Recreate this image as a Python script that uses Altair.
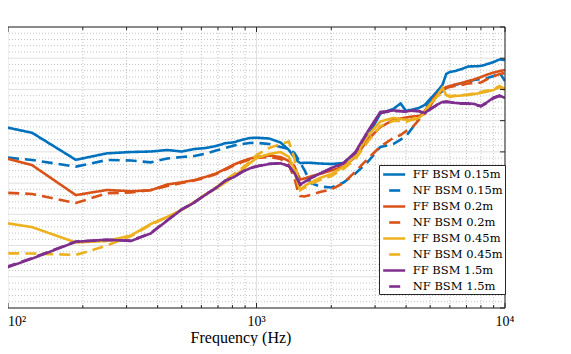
import altair as alt
import pandas as pd

# ---------------- data ----------------
freqs = [62.5, 125, 187.5, 250, 312.5, 375, 437.5, 500, 562.5, 625, 687.5, 750,
         812.5, 875, 937.5, 1000, 1125, 1250, 1350, 1420, 1470, 1500, 1560, 1650,
         1800, 2000, 2240, 2500, 2800, 3150, 3550, 3800, 4000, 4250, 4500, 4750,
         5000, 5300, 5600, 5800, 6000, 6300, 6700, 7100, 7500, 8000, 8500, 9000,
         9500, 10000]

series_names = ["FF BSM 0.15m", "NF BSM 0.15m", "FF BSM 0.2m", "NF BSM 0.2m",
                "FF BSM 0.45m", "NF BSM 0.45m", "FF BSM 1.5m", "NF BSM 1.5m"]

ff_015 = [-14.41, -16.94, -21.27, -20.23, -20.02, -19.94, -19.70, -19.94, -19.54, -19.38,
          -19.06, -18.61, -18.46, -18.06, -17.78, -17.73, -17.86, -18.50, -19.70, -20.90,
          -21.54, -21.78, -21.75, -21.75, -21.86, -21.94, -21.78, -20.18, -17.62, -13.85,
          -13.13, -12.25, -13.45, -13.21, -12.97, -12.49, -11.53, -10.41, -9.29, -7.53,
          -7.21, -7.05, -6.73, -6.33, -6.29, -6.25, -5.93, -5.61, -5.20, -5.28]
nf_015 = [-20.10, -21.30, -22.36, -21.30, -21.38, -21.67, -21.06, -20.82, -20.66, -20.26,
          -19.78, -19.38, -18.98, -18.74, -18.58, -18.55, -18.74, -19.22, -19.54, -20.18,
          -21.14, -21.78, -22.90, -24.98, -25.54, -25.70, -24.90, -23.46, -21.62, -19.22,
          -18.74, -18.02, -17.46, -16.10, -14.57, -13.13, -12.01, -11.05, -10.25, -9.77,
          -9.53, -9.29, -8.97, -8.73, -8.49, -8.33, -8.17, -7.85, -7.29, -8.65]
ff_02 = [-18.98, -22.12, -26.92, -26.10, -26.30, -26.15, -25.22, -24.87, -24.51, -23.99,
         -23.46, -22.71, -22.02, -21.49, -21.09, -20.82, -20.58, -20.82, -21.46, -22.26,
         -23.70, -24.42, -24.26, -23.94, -23.54, -22.98, -22.34, -20.82, -18.10, -16.02,
         -14.89, -14.65, -14.49, -14.33, -14.25, -13.93, -12.65, -11.05, -10.01, -9.61,
         -9.45, -9.21, -8.97, -8.65, -8.41, -8.01, -7.61, -7.29, -7.05, -6.89]
nf_02 = [-26.18, -26.74, -28.19, -26.63, -26.50, -26.10, -25.46, -24.98, -24.58, -24.10,
         -23.54, -22.82, -22.18, -21.62, -21.22, -20.98, -20.82, -21.14, -22.10, -24.18,
         -26.42, -27.07, -27.15, -26.91, -26.42, -26.02, -24.98, -23.14, -21.14, -19.14,
         -17.78, -17.30, -16.66, -16.02, -14.89, -13.45, -12.17, -10.89, -10.09, -9.77,
         -9.61, -9.45, -9.29, -9.05, -8.97, -8.89, -8.33, -7.93, -7.53, -7.37]
ff_045 = [-30.16, -32.05, -34.51, -34.27, -33.39, -31.55, -30.40, -29.31, -28.03, -26.83,
          -25.86, -24.90, -23.86, -22.90, -21.86, -20.98, -20.34, -20.02, -20.82, -22.90,
          -25.14, -26.10, -25.46, -24.90, -24.18, -23.54, -22.42, -20.66, -17.46, -15.13,
          -14.57, -14.73, -14.89, -14.89, -14.57, -13.77, -12.33, -11.21, -9.77, -10.89,
          -11.21, -11.05, -10.97, -10.89, -10.73, -10.57, -10.33, -10.09, -9.61, -10.09]
nf_045 = [-36.19, -36.27, -36.51, -34.99, -33.47, -31.71, -30.43, -29.31, -28.03, -26.75,
          -25.70, -24.51, -23.54, -22.58, -21.62, -20.50, -19.38, -18.74, -18.34, -20.98,
          -24.50, -26.10, -25.78, -25.14, -24.51, -23.86, -22.74, -21.14, -18.42, -15.85,
          -15.05, -15.05, -15.21, -14.73, -14.25, -13.61, -12.33, -11.21, -10.57, -10.89,
          -11.05, -10.97, -10.89, -10.81, -10.65, -10.41, -10.17, -9.93, -9.45, -9.93]
ff_15 = [-41.32, -37.09, -34.40, -34.05, -34.27, -33.07, -30.99, -29.23, -28.11, -26.83,
         -25.78, -24.58, -24.02, -23.22, -22.66, -22.34, -21.94, -21.83, -22.26, -23.38,
         -24.50, -25.22, -24.82, -24.18, -23.46, -22.58, -21.78, -20.02, -16.74, -13.61,
         -13.37, -13.45, -13.53, -13.37, -13.45, -13.77, -13.13, -12.49, -12.01, -11.93,
         -12.01, -12.17, -12.22, -12.22, -12.33, -12.65, -12.01, -11.29, -10.97, -11.37]
nf_15 = [-41.20, -37.00, -34.35, -34.10, -34.20, -33.00, -30.95, -29.20, -28.05, -26.80,
         -25.75, -24.60, -24.00, -23.20, -22.60, -22.30, -21.90, -21.80, -22.30, -23.45,
         -24.60, -25.30, -24.90, -24.25, -23.50, -22.65, -21.85, -20.15, -16.90, -13.75,
         -13.45, -13.50, -13.60, -13.45, -13.50, -13.80, -13.20, -12.55, -12.10, -12.00,
         -12.05, -12.20, -12.30, -12.30, -12.40, -12.70, -12.10, -11.40, -11.05, -11.45]

all_series = [ff_015, nf_015, ff_02, nf_02, ff_045, nf_045, ff_15, nf_15]

x_major = [100, 1000, 10000]
x_major_labels = ["10²", "10³", "10⁴"]
x_minor = [200, 300, 400, 500, 600, 700, 800, 900,
           2000, 3000, 4000, 5000, 6000, 7000, 8000, 9000]
y_major = [-45, -40, -35, -30, -25, -20, -15, -10, -5, 0]
y_minor = [v for v in range(-45, 1) if v % 5 != 0]
x_title = ["Frequency (Hz)"]

series_colors = ["#0072BD", "#0072BD", "#D95319", "#D95319",
                 "#EDB120", "#EDB120", "#7E2F8E", "#7E2F8E"]
series_dash = [[1, 0], [11, 6], [1, 0], [11, 6], [1, 0], [11, 6], [1, 0], [11, 6]]

# ---------------- build table ----------------
rows = []
for name, vals in zip(series_names, all_series):
    for f, v in zip(freqs, vals):
        rows.append({"freq": f, "level": v, "series": name})
df = pd.DataFrame(rows)

W, H = 497, 281
AX = "#262626"
SERIF = "DejaVu Serif"
SERIF2 = "Liberation Serif"

xs = alt.Scale(type="log", domain=[100, 10000], nice=False)
ys = alt.Scale(domain=[-45, 0], nice=False, zero=False)


def vrules(values, color, dash, width=0.8):
    return alt.Chart(pd.DataFrame({"freq": values})).mark_rule(
        color=color, strokeDash=dash, strokeWidth=width
    ).encode(x=alt.X("freq:Q", scale=xs, axis=None))


def hrules(values, color, dash, width=0.8):
    return alt.Chart(pd.DataFrame({"level": values})).mark_rule(
        color=color, strokeDash=dash, strokeWidth=width
    ).encode(y=alt.Y("level:Q", scale=ys, axis=None))


grid_minor_x = vrules(x_minor, "#b4b4b4", [1, 2])
grid_minor_y = hrules(y_minor, "#b4b4b4", [1, 2])
grid_major_x = vrules(x_major, "#dcdcdc", [1, 0], 0.9)
grid_major_y = hrules(y_major, "#dcdcdc", [1, 0], 0.9)

legend_kw = dict(orient="none", legendX=371, legendY=138,
                 title=None, fillColor="#ffffff", strokeColor=AX,
                 padding=2, labelFont=SERIF, labelFontSize=11.5,
                 labelColor="#000000", labelLimit=0,
                 labelExpr="datum.label + '  '",
                 symbolType="M-1.833,0L1.833,0", symbolSize=144,
                 symbolStrokeWidth=2.6, symbolOffset=5.7,
                 labelOffset=11, rowPadding=3,
                 symbolDashOffset=11, cornerRadius=0)

lines = alt.Chart(df).mark_line(strokeWidth=2.6, clip=True).encode(
    x=alt.X("freq:Q", scale=xs, axis=None),
    y=alt.Y("level:Q", scale=ys, axis=None),
    color=alt.Color("series:N",
                    scale=alt.Scale(domain=series_names, range=series_colors),
                    legend=alt.Legend(**legend_kw)),
    strokeDash=alt.StrokeDash("series:N",
                              scale=alt.Scale(domain=series_names, range=series_dash),
                              legend=alt.Legend(**legend_kw)),
)

# axes box (bottom, top, right) and inward ticks
one = pd.DataFrame({"k": [0]})
bottom_line = alt.Chart(one).mark_rule(color=AX, strokeWidth=1).encode(
    x=alt.value(0), x2=alt.value(W), y=alt.value(H))
top_line = alt.Chart(one).mark_rule(color=AX, strokeWidth=1).encode(
    x=alt.value(0), x2=alt.value(W), y=alt.value(0))
right_line = alt.Chart(one).mark_rule(color=AX, strokeWidth=1).encode(
    x=alt.value(W), y=alt.value(0), y2=alt.value(H))


def xticks(values, y1, y2):
    return alt.Chart(pd.DataFrame({"freq": values})).mark_rule(color=AX, strokeWidth=1).encode(
        x=alt.X("freq:Q", scale=xs, axis=None), y=alt.value(y1), y2=alt.value(y2))


ticks_bottom_major = xticks(x_major, H, H - 5)
ticks_bottom_minor = xticks(x_minor, H, H - 3)
ticks_top_major = xticks(x_major, 0, 5)
ticks_top_minor = xticks(x_minor, 0, 3)
ticks_right = alt.Chart(pd.DataFrame({"level": y_major})).mark_rule(color=AX, strokeWidth=1).encode(
    y=alt.Y("level:Q", scale=ys, axis=None), x=alt.value(W), x2=alt.value(W - 5))

# tick labels (10^2 flush-left at the visible edge, others centred)
lab_df = pd.DataFrame({"freq": x_major, "label": x_major_labels})
tick_lab_first = alt.Chart(lab_df.iloc[:1]).mark_text(
    font=SERIF2, fontSize=14, color="#000000", align="left",
    baseline="alphabetic"
).encode(x=alt.X("freq:Q", scale=xs, axis=None), y=alt.value(H + 18), text="label:N")
tick_lab_rest = alt.Chart(lab_df.iloc[1:]).mark_text(
    font=SERIF2, fontSize=14, color="#000000", align="center",
    baseline="alphabetic"
).encode(x=alt.X("freq:Q", scale=xs, axis=None), y=alt.value(H + 18), text="label:N")

# x-axis title
x_title_mark = alt.Chart(pd.DataFrame({"t": x_title})).mark_text(
    font=SERIF2, fontSize=16, fontWeight="normal", color="#000000",
    align="center", baseline="alphabetic"
).encode(x=alt.value(233), y=alt.value(H + 35), text="t:N")

chart = alt.layer(
    grid_minor_x, grid_minor_y, grid_major_x, grid_major_y,
    lines,
    bottom_line, top_line, right_line,
    ticks_bottom_major, ticks_bottom_minor, ticks_top_major, ticks_top_minor, ticks_right,
    tick_lab_first, tick_lab_rest, x_title_mark,
).properties(
    width=W, height=H,
    autosize=alt.AutoSizeParams(type="none"),
    padding={"left": 0, "top": 19, "right": 50, "bottom": 38},
    background="#ffffff",
).configure_view(stroke=None)

chart.save("out.html", embed_options={"renderer": "svg", "actions": False})
